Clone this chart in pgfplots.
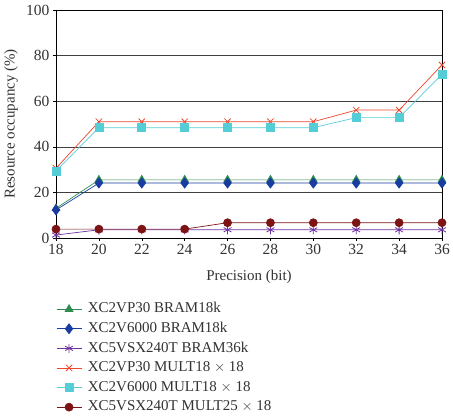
\documentclass[border=0pt]{standalone}
\usepackage{pgfplots}
\pgfplotsset{compat=1.18}
\usepackage{fontspec}
\setmainfont{Liberation Serif}
\definecolor{cGreen}{RGB}{46,140,80}
\definecolor{cBlue}{RGB}{25,60,160}
\definecolor{cPurple}{RGB}{110,50,160}
\definecolor{cRed}{RGB}{240,70,45}
\definecolor{cCyan}{RGB}{85,205,215}
\definecolor{cDark}{RGB}{125,20,20}
\begin{document}
\begin{tikzpicture}
\begin{axis}[
  scale only axis,
  width=386pt, height=228pt,
  xmin=18, xmax=36, ymin=0, ymax=100,
  xtick={18,20,...,36}, ytick={0,20,...,100},
  tick align=outside, tick pos=left,
  major tick length=3pt,
  tick style={black, line width=0.5pt},
  ymajorgrids, grid style={black!75, line width=0.6pt},
  axis line style={black, line width=0.6pt},
  every tick label/.append style={font=\fontsize{15.5}{17}\selectfont, text=black!80},
  /pgf/number format/assume math mode=true,
  xlabel={Precision (bit)}, ylabel={Resource occupancy (\%)},
  label style={font=\fontsize{15}{17}\selectfont, text=black!80},
  xlabel style={at={(axis description cs:0.5,-0.171)}, anchor=center},
  ylabel style={at={(axis description cs:-0.1166,0.5)}, anchor=center},
  clip=false,
  legend style={at={(0,-0.275)}, anchor=north west, draw=none, fill=none,
    font=\fontsize{15}{17}\selectfont, text=black!80,
    inner sep=0pt, row sep=3.1pt, column sep=5pt,
    nodes={inner sep=1pt, text height=11pt, text depth=3.5pt},
    cells={anchor=west}},
  legend cell align=left,
  legend image code/.code={
    \draw[mark repeat=2, mark phase=2] plot coordinates {(0pt,0pt) (12.5pt,0pt) (25pt,0pt)};},
  every axis plot/.append style={line width=0.7pt},
]
\addplot[cGreen, mark=triangle*, mark size=4.5pt] coordinates {
 (18,13) (20,25.5) (22,25.5) (24,25.5) (26,25.5) (28,25.5) (30,25.5) (32,25.5) (34,25.5) (36,25.5)};
\addlegendentry{XC2VP30 BRAM18k}
\addplot[cBlue, mark=diamond*, mark size=5pt] coordinates {
 (18,12.3) (20,24.1) (22,24.1) (24,24.1) (26,24.1) (28,24.1) (30,24.1) (32,24.1) (34,24.1) (36,24.1)};
\addlegendentry{XC2V6000 BRAM18k}
\addplot[cPurple, mark=asterisk, mark size=4.5pt, mark options={line width=0.8pt}] coordinates {
 (18,1.3) (20,3.6) (22,3.6) (24,3.6) (26,3.6) (28,3.6) (30,3.6) (32,3.6) (34,3.6) (36,3.6)};
\addlegendentry{XC5VSX240T BRAM36k}
\addplot[cRed, mark=x, mark size=4.5pt, mark options={line width=0.8pt}] coordinates {
 (18,30.6) (20,51) (22,51) (24,51) (26,51) (28,51) (30,51) (32,56.1) (34,56.1) (36,75.9)};
\addlegendentry{XC2VP30 MULT18 $\times$ 18}
\addplot[cCyan, mark=square*, mark size=4pt] coordinates {
 (18,29.4) (20,48.4) (22,48.4) (24,48.4) (26,48.4) (28,48.4) (30,48.4) (32,52.8) (34,52.8) (36,71.8)};
\addlegendentry{XC2V6000 MULT18 $\times$ 18}
\addplot[cDark, mark=*, mark size=4pt] coordinates {
 (18,3.9) (20,3.9) (22,3.9) (24,3.9) (26,6.7) (28,6.7) (30,6.7) (32,6.7) (34,6.7) (36,6.7)};
\addlegendentry{XC5VSX240T MULT25 $\times$ 18}
\draw[black, line width=0.6pt] (rel axis cs:1,0) -- (rel axis cs:1,1) -- (rel axis cs:0,1);
\coordinate (sw) at (rel axis cs:0,0);
\coordinate (ne) at (rel axis cs:1,1);
\end{axis}
% page frame around the plot area, labels and legend
\pgfresetboundingbox
\path (sw) ++(-56pt,-178pt) coordinate (bl);
\path (ne) ++(11pt,10pt) coordinate (tr);
\useasboundingbox (bl) rectangle (tr);
\end{tikzpicture}
\end{document}
